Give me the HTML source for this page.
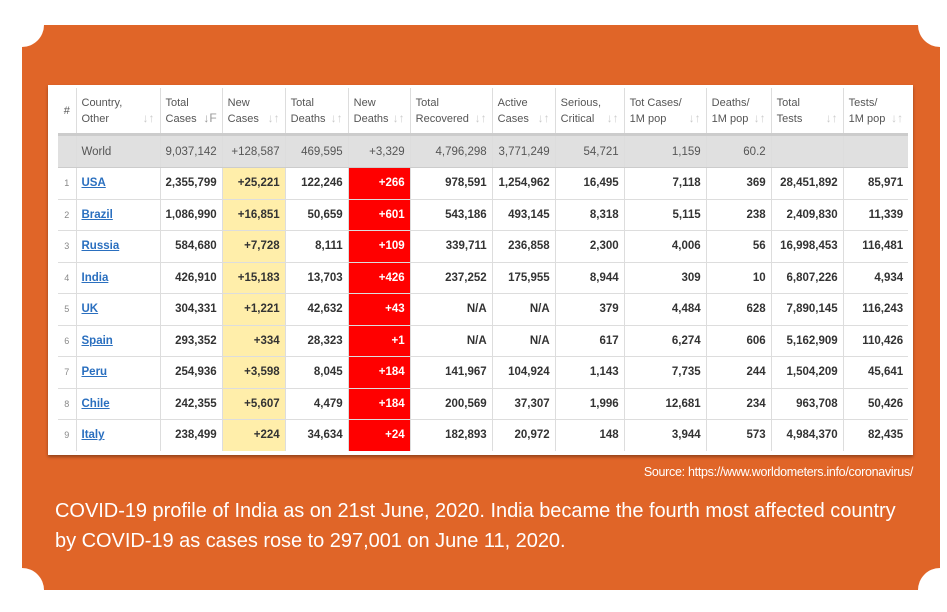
<!DOCTYPE html>
<html><head><style>
body{margin:0;width:947px;height:603px;background:#fff;position:relative;overflow:hidden;font-family:"Liberation Sans",Arial,sans-serif}
.card{position:absolute;left:22px;top:25px;width:918px;height:565px;background:#E06528}
.n{position:absolute;width:44px;height:44px;border-radius:50%;background:#fff}
.panel{position:absolute;left:48px;top:85px;width:865px;height:370px;background:#fff;box-shadow:0 2px 3px rgba(0,0,0,.35)}
table{position:absolute;left:10px;top:3px;border-collapse:collapse;table-layout:fixed;font-size:11.5px}
td,th{border-right:1px solid #ddd;padding:0 5px;text-align:right;white-space:nowrap;overflow:hidden}
td:last-child,th:last-child{border-right:none}
th{height:45px;font-weight:normal;color:#555;text-align:left;font-size:11px;line-height:16px;border-bottom:3px solid #ccc;position:relative}
th .a{position:absolute;right:5px;bottom:7px;color:#ccc;font-size:12px}
tr.w td{background:#e0e0e0;color:#555;height:31px;border-bottom:1px solid #ccc}
tr.r td{height:30.5px;border-bottom:1px solid #ddd;font-weight:bold;color:#333}
tr.r:last-child td{border-bottom:none}
tr.r td:first-child{font-weight:normal;color:#888;font-size:9px;text-align:center}
tr.r td:nth-child(2){text-align:left}
a{color:#2a6fbf;text-decoration:underline}
.y{background:#FFEEAA!important}
.rd{background:#F00!important;color:#fff!important}
.src{position:absolute;right:34px;top:465px;color:#fff;font-size:12.5px;letter-spacing:-0.3px}
.cap{position:absolute;left:55px;top:496px;color:#fff;font-size:20px;line-height:30px;letter-spacing:-0.03px}
</style></head><body>
<div class="card"></div>
<div class="n" style="left:0;top:3px"></div>
<div class="n" style="left:918px;top:3px"></div>
<div class="n" style="left:0;top:568px"></div>
<div class="n" style="left:918px;top:568px"></div>
<div class="panel">
<table>
<colgroup><col style="width:18px"><col style="width:84px"><col style="width:62px"><col style="width:63px"><col style="width:63px"><col style="width:62px"><col style="width:82px"><col style="width:63px"><col style="width:69px"><col style="width:82px"><col style="width:65px"><col style="width:72px"><col style="width:65px"></colgroup>
<tr><th style="padding:0;text-align:center">#</th><th>Country,<br>Other<span class="a">↓↑</span></th><th>Total<br>Cases<span class="a" style="color:#999">↓F</span></th><th>New<br>Cases<span class="a">↓↑</span></th><th>Total<br>Deaths<span class="a">↓↑</span></th><th>New<br>Deaths<span class="a">↓↑</span></th><th>Total<br>Recovered<span class="a">↓↑</span></th><th>Active<br>Cases<span class="a">↓↑</span></th><th>Serious,<br>Critical<span class="a">↓↑</span></th><th>Tot Cases/<br>1M pop<span class="a">↓↑</span></th><th>Deaths/<br>1M pop<span class="a">↓↑</span></th><th>Total<br>Tests<span class="a">↓↑</span></th><th>Tests/<br>1M pop<span class="a">↓↑</span></th></tr>
<tr class="w"><td></td><td style="text-align:left">World</td><td>9,037,142</td><td>+128,587</td><td>469,595</td><td>+3,329</td><td>4,796,298</td><td>3,771,249</td><td>54,721</td><td>1,159</td><td>60.2</td><td></td><td></td></tr>
<tr class="r"><td>1</td><td><a>USA</a></td><td>2,355,799</td><td class="y">+25,221</td><td>122,246</td><td class="rd">+266</td><td>978,591</td><td>1,254,962</td><td>16,495</td><td>7,118</td><td>369</td><td>28,451,892</td><td>85,971</td></tr>
<tr class="r"><td>2</td><td><a>Brazil</a></td><td>1,086,990</td><td class="y">+16,851</td><td>50,659</td><td class="rd">+601</td><td>543,186</td><td>493,145</td><td>8,318</td><td>5,115</td><td>238</td><td>2,409,830</td><td>11,339</td></tr>
<tr class="r"><td>3</td><td><a>Russia</a></td><td>584,680</td><td class="y">+7,728</td><td>8,111</td><td class="rd">+109</td><td>339,711</td><td>236,858</td><td>2,300</td><td>4,006</td><td>56</td><td>16,998,453</td><td>116,481</td></tr>
<tr class="r"><td>4</td><td><a>India</a></td><td>426,910</td><td class="y">+15,183</td><td>13,703</td><td class="rd">+426</td><td>237,252</td><td>175,955</td><td>8,944</td><td>309</td><td>10</td><td>6,807,226</td><td>4,934</td></tr>
<tr class="r"><td>5</td><td><a>UK</a></td><td>304,331</td><td class="y">+1,221</td><td>42,632</td><td class="rd">+43</td><td>N/A</td><td>N/A</td><td>379</td><td>4,484</td><td>628</td><td>7,890,145</td><td>116,243</td></tr>
<tr class="r"><td>6</td><td><a>Spain</a></td><td>293,352</td><td class="y">+334</td><td>28,323</td><td class="rd">+1</td><td>N/A</td><td>N/A</td><td>617</td><td>6,274</td><td>606</td><td>5,162,909</td><td>110,426</td></tr>
<tr class="r"><td>7</td><td><a>Peru</a></td><td>254,936</td><td class="y">+3,598</td><td>8,045</td><td class="rd">+184</td><td>141,967</td><td>104,924</td><td>1,143</td><td>7,735</td><td>244</td><td>1,504,209</td><td>45,641</td></tr>
<tr class="r"><td>8</td><td><a>Chile</a></td><td>242,355</td><td class="y">+5,607</td><td>4,479</td><td class="rd">+184</td><td>200,569</td><td>37,307</td><td>1,996</td><td>12,681</td><td>234</td><td>963,708</td><td>50,426</td></tr>
<tr class="r"><td>9</td><td><a>Italy</a></td><td>238,499</td><td class="y">+224</td><td>34,634</td><td class="rd">+24</td><td>182,893</td><td>20,972</td><td>148</td><td>3,944</td><td>573</td><td>4,984,370</td><td>82,435</td></tr>
</table>
</div>
<div class="src">Source: https://www.worldometers.info/coronavirus/</div>
<div class="cap">COVID-19 profile of India as on 21st June, 2020. India became the fourth most affected country<br>by COVID-19 as cases rose to 297,001 on June 11, 2020.</div>
</body></html>
